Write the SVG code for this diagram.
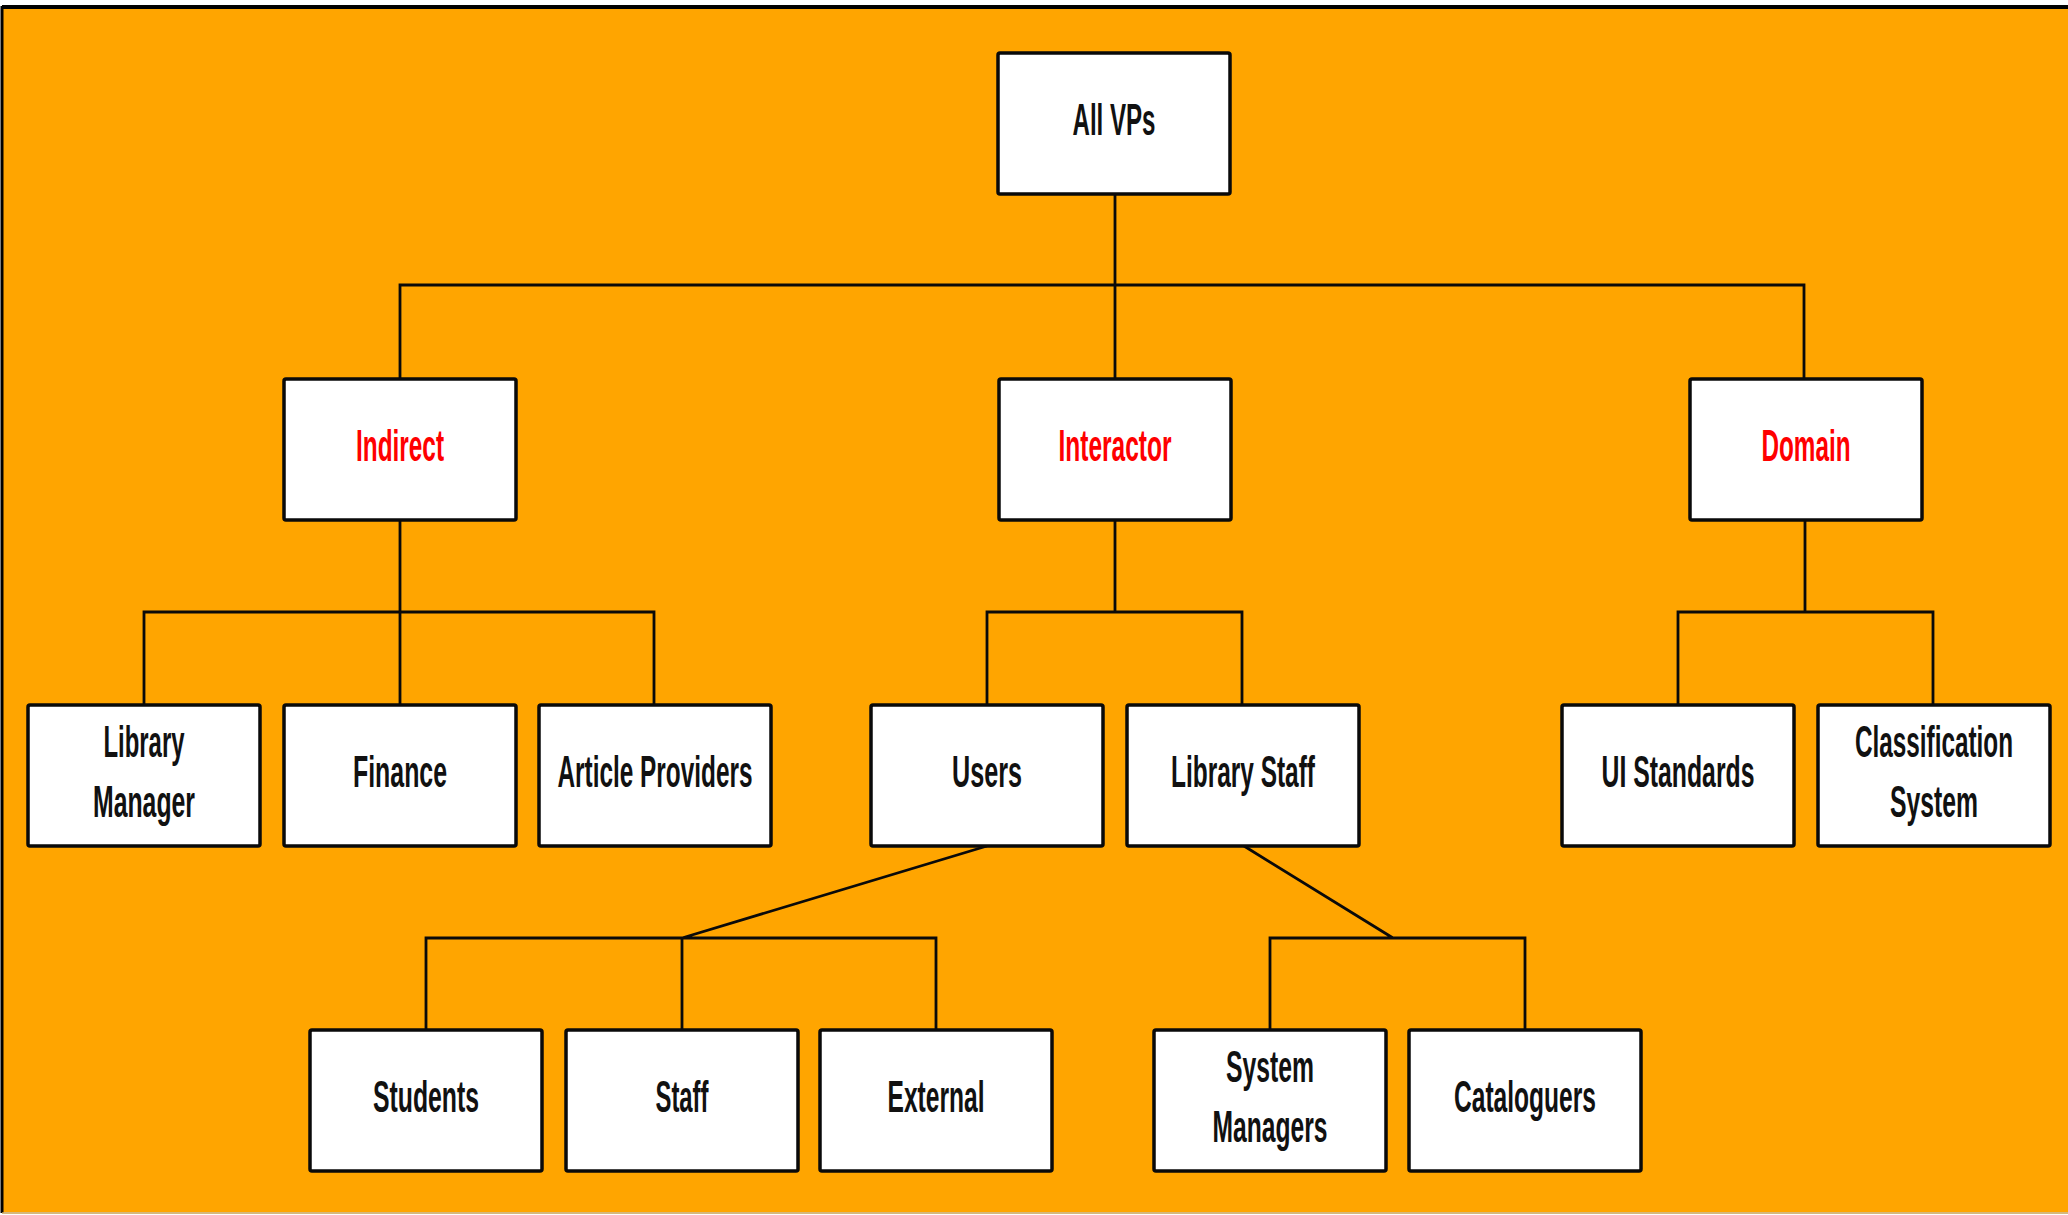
<svg xmlns="http://www.w3.org/2000/svg" width="2068" height="1215" viewBox="0 0 2068 1215">
  <style>
    .node rect { fill: #ffffff; stroke: #0a0a0a; stroke-width: 3.5; }
    .node text { font-family: "Liberation Sans", Arial, sans-serif; font-size: 44px; font-weight: bold; fill: #111111; text-anchor: middle; }
    .node text.cat { fill: #ff0000; }
    .links { fill: none; stroke: #0a0a0a; stroke-width: 2.8; stroke-linejoin: miter; }
  </style>

  <!-- frame -->
  <rect x="0" y="0" width="2068" height="1215" fill="#ffffff"/>
  <rect x="2" y="8" width="2066" height="1204" fill="#ffa500"/>
  <line x1="2" y1="7" x2="2068" y2="7" stroke="#000000" stroke-width="4"/>
  <line x1="2" y1="6" x2="2" y2="1213" stroke="#000000" stroke-width="3"/>
  <line x1="2" y1="1213" x2="2068" y2="1213" stroke="#c8a050" stroke-width="1.5"/>

  <!-- connectors -->
  <g id="connectors" class="links">
    <path d="M1115 194 V285 M400 379 V285 H1804 V379 M1115 285 V379"/>
    <path d="M400 520 V612 M144 705 V612 H654 V705 M400 612 V705"/>
    <path d="M1115 520 V612 M987 705 V612 H1242 V705"/>
    <path d="M1805 520 V612 M1678 705 V612 H1933 V705"/>
    <path d="M987 846 L682 938 M426 1030 V938 H936 V1030 M682 938 V1030"/>
    <path d="M1244 846 L1393 938 M1270 1030 V938 H1525 V1030"/>
  </g>

  <!-- level 1 -->
  <g id="all-vps" class="node">
    <rect x="998" y="53" width="232" height="141" rx="2"/>
    <text x="1114" y="135" textLength="83" lengthAdjust="spacingAndGlyphs">All VPs</text>
  </g>

  <!-- level 2 -->
  <g id="indirect" class="node">
    <rect x="284" y="379" width="232" height="141" rx="2"/>
    <text class="cat" x="400" y="461" textLength="88" lengthAdjust="spacingAndGlyphs">Indirect</text>
  </g>
  <g id="interactor" class="node">
    <rect x="999" y="379" width="232" height="141" rx="2"/>
    <text class="cat" x="1115" y="461" textLength="113" lengthAdjust="spacingAndGlyphs">Interactor</text>
  </g>
  <g id="domain" class="node">
    <rect x="1690" y="379" width="232" height="141" rx="2"/>
    <text class="cat" x="1806" y="461" textLength="89" lengthAdjust="spacingAndGlyphs">Domain</text>
  </g>

  <!-- level 3 -->
  <g id="library-manager" class="node">
    <rect x="28" y="705" width="232" height="141" rx="2"/>
    <text x="144" y="757" textLength="81" lengthAdjust="spacingAndGlyphs">Library</text>
    <text x="144" y="817" textLength="102" lengthAdjust="spacingAndGlyphs">Manager</text>
  </g>
  <g id="finance" class="node">
    <rect x="284" y="705" width="232" height="141" rx="2"/>
    <text x="400" y="787" textLength="94" lengthAdjust="spacingAndGlyphs">Finance</text>
  </g>
  <g id="article-providers" class="node">
    <rect x="539" y="705" width="232" height="141" rx="2"/>
    <text x="655" y="787" textLength="195" lengthAdjust="spacingAndGlyphs">Article Providers</text>
  </g>
  <g id="users" class="node">
    <rect x="871" y="705" width="232" height="141" rx="2"/>
    <text x="987" y="787" textLength="70" lengthAdjust="spacingAndGlyphs">Users</text>
  </g>
  <g id="library-staff" class="node">
    <rect x="1127" y="705" width="232" height="141" rx="2"/>
    <text x="1243" y="787" textLength="144" lengthAdjust="spacingAndGlyphs">Library Staff</text>
  </g>
  <g id="ui-standards" class="node">
    <rect x="1562" y="705" width="232" height="141" rx="2"/>
    <text x="1678" y="787" textLength="153" lengthAdjust="spacingAndGlyphs">UI Standards</text>
  </g>
  <g id="classification-system" class="node">
    <rect x="1818" y="705" width="232" height="141" rx="2"/>
    <text x="1934" y="757" textLength="158" lengthAdjust="spacingAndGlyphs">Classification</text>
    <text x="1934" y="817" textLength="88" lengthAdjust="spacingAndGlyphs">System</text>
  </g>

  <!-- level 4 -->
  <g id="students" class="node">
    <rect x="310" y="1030" width="232" height="141" rx="2"/>
    <text x="426" y="1112" textLength="106" lengthAdjust="spacingAndGlyphs">Students</text>
  </g>
  <g id="staff" class="node">
    <rect x="566" y="1030" width="232" height="141" rx="2"/>
    <text x="682" y="1112" textLength="53" lengthAdjust="spacingAndGlyphs">Staff</text>
  </g>
  <g id="external" class="node">
    <rect x="820" y="1030" width="232" height="141" rx="2"/>
    <text x="936" y="1112" textLength="97" lengthAdjust="spacingAndGlyphs">External</text>
  </g>
  <g id="system-managers" class="node">
    <rect x="1154" y="1030" width="232" height="141" rx="2"/>
    <text x="1270" y="1082" textLength="88" lengthAdjust="spacingAndGlyphs">System</text>
    <text x="1270" y="1142" textLength="115" lengthAdjust="spacingAndGlyphs">Managers</text>
  </g>
  <g id="cataloguers" class="node">
    <rect x="1409" y="1030" width="232" height="141" rx="2"/>
    <text x="1525" y="1112" textLength="142" lengthAdjust="spacingAndGlyphs">Cataloguers</text>
  </g>
</svg>
